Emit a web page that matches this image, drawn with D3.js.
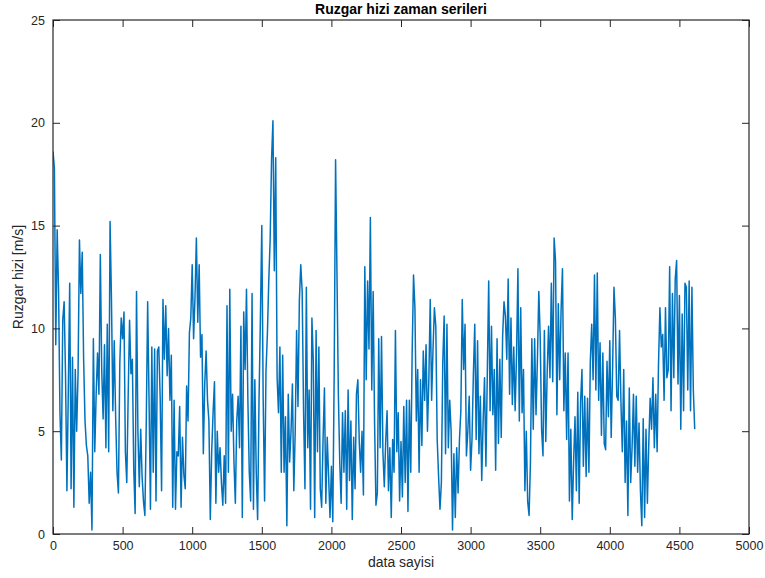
<!DOCTYPE html>
<html>
<head>
<meta charset="utf-8">
<script src="https://cdn.jsdelivr.net/npm/d3@7"></script>
<style>
  html, body { margin: 0; padding: 0; background: #fff; }
  svg { display: block; font-family: "Liberation Sans", Arial, Helvetica, sans-serif; }
</style>
</head>
<body>
<svg id="chart" width="765" height="578"></svg>
<script>
const sampleStep = 10;
const windSpeed = [
  18.6, 17.8, 9.2, 14.8, 11.8, 5.9, 3.6, 10.4, 11.3, 7.7,
  2.1, 7.0, 12.2, 2.2, 8.6, 1.3, 8.0, 5.0, 7.8, 14.3,
  11.7, 13.7, 8.5, 5.5, 4.3, 3.8, 1.5, 3.0, 0.2, 9.5,
  4.0, 6.8, 8.8, 6.8, 13.6, 8.0, 5.6, 9.2, 4.2, 10.2,
  4.0, 15.2, 11.4, 6.0, 9.4, 5.7, 3.0, 2.0, 8.3, 10.5,
  9.5, 10.8, 4.0, 2.5, 6.7, 10.4, 7.8, 8.5, 3.2, 1.0,
  11.8, 5.0, 2.3, 5.1, 2.8, 1.6, 0.9, 5.4, 11.3, 6.5,
  1.2, 9.1, 3.0, 9.0, 1.6, 8.9, 9.1, 6.6, 2.1, 11.4,
  8.5, 11.1, 7.7, 10.0, 6.5, 8.7, 1.3, 6.5, 1.2, 4.0,
  3.8, 6.2, 1.3, 4.7, 2.9, 2.2, 7.2, 5.5, 9.8, 10.5,
  13.1, 9.5, 11.5, 14.4, 10.3, 13.1, 8.6, 9.7, 3.9, 7.3,
  8.9, 6.5, 5.5, 0.7, 4.0, 5.9, 7.4, 1.5, 5.0, 3.0,
  4.2, 2.5, 1.4, 3.8, 1.5, 11.1, 3.0, 11.9, 5.0, 6.8,
  3.5, 1.5, 5.5, 6.7, 4.2, 10.1, 0.8, 10.8, 8.0, 11.9,
  6.5, 3.0, 1.6, 11.7, 1.2, 7.5, 3.0, 0.7, 6.5, 10.5,
  15.0, 6.5, 1.6, 7.9, 9.7, 12.3, 14.3, 18.2, 20.1, 12.8,
  18.3, 7.6, 5.9, 9.1, 3.0, 8.7, 3.0, 5.7, 0.4, 6.8,
  3.5, 5.0, 7.3, 2.1, 5.0, 9.9, 6.2, 11.4, 13.1, 11.8,
  6.0, 2.2, 12.0, 4.2, 7.0, 1.2, 10.5, 8.4, 0.8, 9.9,
  4.0, 9.1, 2.2, 1.3, 4.6, 7.1, 1.5, 4.7, 2.8, 0.8,
  3.3, 0.6, 7.8, 18.2, 12.7, 6.8, 3.5, 1.5, 5.9, 3.0,
  6.0, 1.2, 7.0, 2.6, 5.5, 0.7, 4.7, 2.2, 6.8, 7.5,
  4.5, 3.0, 5.0, 1.9, 13.0, 7.5, 12.3, 9.0, 15.4, 7.0,
  11.8, 5.5, 1.4, 2.0, 9.5, 4.2, 9.6, 4.0, 2.3, 4.5,
  6.0, 2.1, 4.2, 0.8, 4.6, 3.0, 9.9, 4.0, 5.9, 1.6,
  4.5, 1.8, 6.2, 2.5, 6.5, 1.1, 6.5, 3.0, 8.7, 12.6,
  11.0, 5.5, 8.0, 3.0, 7.5, 4.3, 8.9, 6.5, 9.2, 5.0,
  7.5, 11.4, 6.5, 9.0, 11.0, 10.1, 4.6, 2.8, 1.2, 2.5,
  8.3, 10.6, 3.9, 10.2, 4.2, 6.5, 5.0, 0.2, 3.9, 0.8,
  4.2, 2.0, 4.6, 6.0, 11.4, 8.0, 10.2, 3.8, 5.0, 6.7,
  3.1, 4.6, 7.8, 10.2, 4.6, 9.4, 3.9, 6.7, 2.6, 5.5,
  7.6, 3.3, 7.8, 12.3, 6.0, 10.1, 5.8, 8.0, 3.1, 9.5,
  4.4, 8.5, 4.7, 9.6, 11.3, 10.6, 8.5, 12.4, 6.8, 10.5,
  6.3, 9.1, 6.0, 8.7, 12.9, 5.5, 11.0, 5.9, 8.0, 2.1,
  5.0, 1.6, 0.9, 3.5, 9.5, 5.1, 9.5, 5.8, 8.5, 11.8,
  9.6, 5.1, 3.8, 9.9, 4.5, 7.8, 10.1, 7.6, 12.2, 7.4,
  14.4, 13.3, 5.8, 11.2, 7.5, 10.9, 12.9, 6.0, 8.8, 4.6,
  8.8, 1.6, 5.1, 0.7, 3.5, 5.7, 2.1, 6.9, 1.5, 6.4,
  8.0, 3.3, 6.7, 2.8, 6.6, 3.0, 8.4, 10.2, 7.5, 12.6,
  7.0, 12.7, 6.5, 9.3, 4.8, 8.8, 4.4, 4.1, 8.4, 5.7,
  9.4, 4.7, 8.0, 12.0, 10.5, 6.7, 6.5, 9.9, 6.4, 4.0,
  8.0, 2.5, 5.5, 0.9, 7.1, 2.5, 4.2, 6.8, 3.3, 6.7,
  3.0, 5.4, 2.1, 0.4, 5.6, 0.8, 5.1, 1.5, 4.4, 6.6,
  5.1, 7.6, 4.2, 6.8, 4.0, 8.3, 11.0, 9.1, 9.7, 6.5,
  11.0, 7.6, 8.0, 13.0, 6.0, 11.7, 7.6, 12.4, 13.3, 7.3,
  11.6, 5.1, 10.7, 6.0, 12.2, 12.0, 7.0, 12.3, 6.0, 12.0,
  7.0, 5.1
];
const xTicks = [0, 500, 1000, 1500, 2000, 2500, 3000, 3500, 4000, 4500, 5000];
const yTicks = [0, 5, 10, 15, 20, 25];
const xDomain = [0, 5000];
const yDomain = [0, 25];
const titleText = "Ruzgar hizi zaman serileri";
const xLabelText = "data sayisi";
const yLabelText = "Ruzgar hizi [m/s]";

// ---- layout ----
const plot = { left: 53, right: 749, top: 20, bottom: 534 };
const axisColor = "#262626";
const lineColor = "#0072BD";
const tickLen = 7;

const svg = d3.select("#chart");
const x = d3.scaleLinear().domain(xDomain).range([plot.left, plot.right]);
const y = d3.scaleLinear().domain(yDomain).range([plot.bottom, plot.top]);

const points = windSpeed.map((v, i) => [i * sampleStep, v]);

svg.append("defs").append("clipPath").attr("id", "clip")
  .append("rect").attr("x", plot.left).attr("y", plot.top)
  .attr("width", plot.right - plot.left).attr("height", plot.bottom - plot.top);

svg.append("path")
  .datum(points)
  .attr("clip-path", "url(#clip)")
  .attr("fill", "none")
  .attr("stroke", lineColor)
  .attr("stroke-width", 1.5)
  .attr("stroke-linejoin", "round")
  .attr("d", d3.line().x(d => x(d[0])).y(d => y(d[1])));

function styleAxis(g, showText) {
  g.select(".domain").remove();
  g.selectAll(".tick line").attr("stroke", axisColor).attr("stroke-width", 1);
  g.selectAll(".tick text")
    .attr("fill", axisColor)
    .style("font-size", "12.5px")
    .style("display", showText ? null : "none");
}

svg.append("g")
  .attr("transform", `translate(0,${plot.bottom})`)
  .call(d3.axisBottom(x).tickValues(xTicks).tickFormat(d3.format("d"))
    .tickSizeInner(-tickLen).tickSizeOuter(0).tickPadding(7))
  .call(g => styleAxis(g, true));
svg.append("g")
  .attr("transform", `translate(0,${plot.top})`)
  .call(d3.axisTop(x).tickValues(xTicks).tickSizeInner(-tickLen).tickSizeOuter(0))
  .call(g => styleAxis(g, false));
svg.append("g")
  .attr("transform", `translate(${plot.left},0)`)
  .call(d3.axisLeft(y).tickValues(yTicks).tickFormat(d3.format("d"))
    .tickSizeInner(-tickLen).tickSizeOuter(0).tickPadding(8))
  .call(g => styleAxis(g, true));
svg.append("g")
  .attr("transform", `translate(${plot.right},0)`)
  .call(d3.axisRight(y).tickValues(yTicks).tickSizeInner(-tickLen).tickSizeOuter(0))
  .call(g => styleAxis(g, false));

svg.append("rect")
  .attr("x", plot.left).attr("y", plot.top)
  .attr("width", plot.right - plot.left).attr("height", plot.bottom - plot.top)
  .attr("fill", "none").attr("stroke", axisColor).attr("stroke-width", 1.2);

svg.append("text")
  .attr("x", (plot.left + plot.right) / 2).attr("y", 14)
  .attr("text-anchor", "middle")
  .style("font-size", "14px").style("font-weight", "bold")
  .attr("fill", "#000")
  .text(titleText);

svg.append("text")
  .attr("x", (plot.left + plot.right) / 2).attr("y", 567)
  .attr("text-anchor", "middle")
  .style("font-size", "14px")
  .attr("fill", axisColor)
  .text(xLabelText);

svg.append("text")
  .attr("transform", `translate(23,${(plot.top + plot.bottom) / 2}) rotate(-90)`)
  .attr("text-anchor", "middle")
  .style("font-size", "14px")
  .attr("fill", axisColor)
  .text(yLabelText);
</script>
</body>
</html>
